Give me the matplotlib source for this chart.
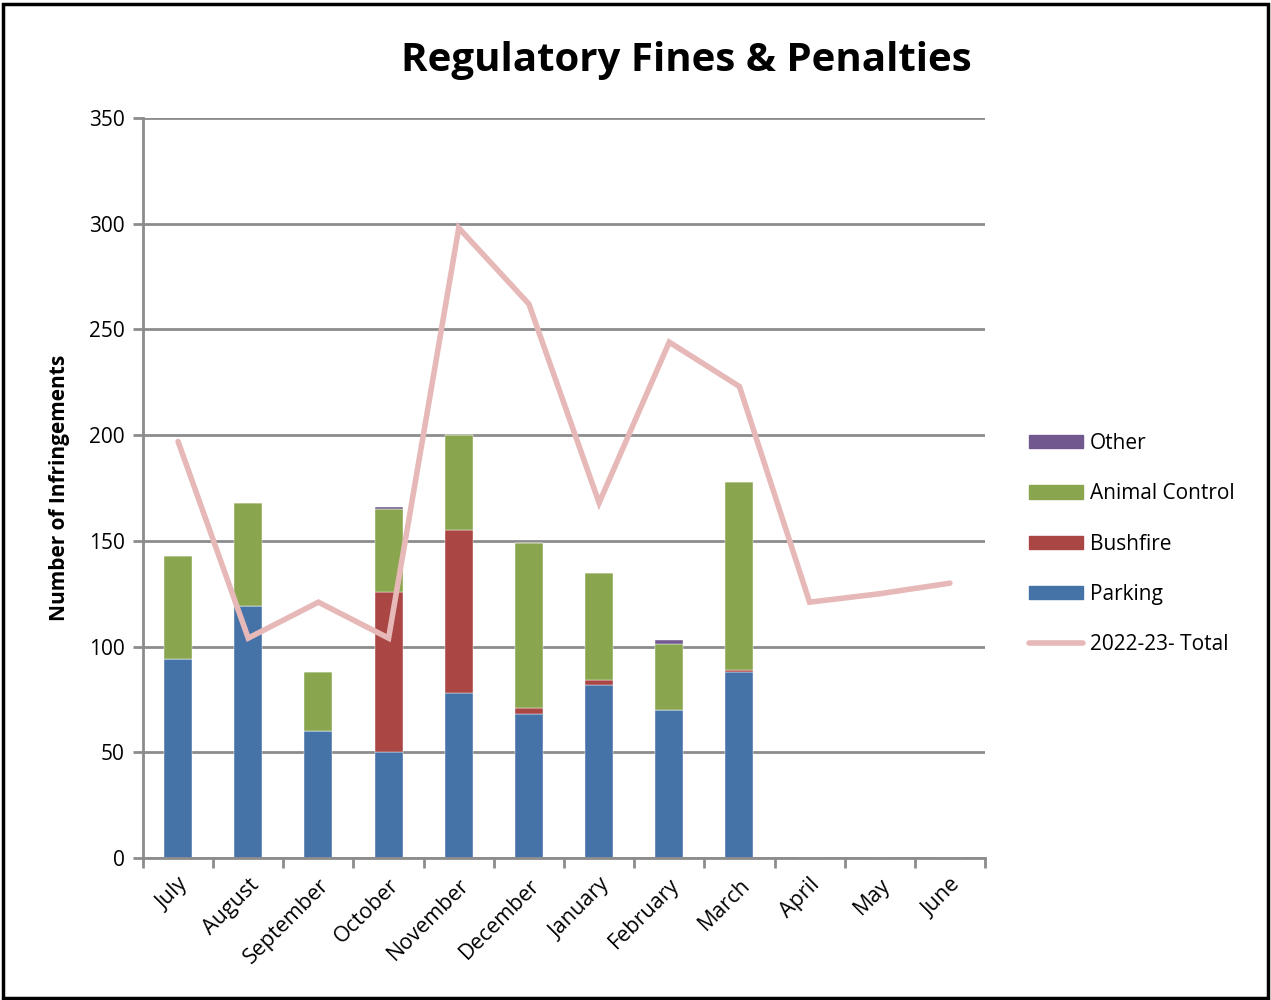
import numpy as np
import matplotlib.pyplot as plt
from matplotlib.patches import Rectangle

months = ['July', 'August', 'September', 'October', 'November', 'December',
          'January', 'February', 'March', 'April', 'May', 'June']
parking = [94, 119, 60, 50, 78, 68, 82, 70, 88, 0, 0, 0]
bushfire = [0, 0, 0, 76, 77, 3, 2, 0, 1, 0, 0, 0]
animal = [49, 49, 28, 39, 45, 78, 51, 31, 89, 0, 0, 0]
other = [0, 0, 0, 1, 0, 0, 0, 2, 0, 0, 0, 0]
total = [197, 104, 121, 104, 298, 262, 168, 244, 223, 121, 125, 130]

c_park = '#4572A7'
c_bush = '#AA4643'
c_anim = '#89A54E'
c_oth = '#71588F'
c_line = '#E6B9B8'

plt.rcParams['font.family'] = ['Open Sans', 'DejaVu Sans']

fig = plt.figure(figsize=(12.71, 10), dpi=100)
ax = fig.add_axes([0.1125, 0.142, 0.6625, 0.74])

x = np.arange(len(months))
w = 0.4
b1 = np.array(parking)
b2 = b1 + np.array(bushfire)
b3 = b2 + np.array(animal)
ax.bar(x, parking, w, color=c_park, edgecolor='white', linewidth=0.3, zorder=2)
ax.bar(x, bushfire, w, bottom=b1, color=c_bush, edgecolor='white', linewidth=0.3, zorder=2)
ax.bar(x, animal, w, bottom=b2, color=c_anim, edgecolor='white', linewidth=0.3, zorder=2)
ax.bar(x, other, w, bottom=b3, color=c_oth, edgecolor='white', linewidth=0.3, zorder=2)
ax.plot(x, total, color=c_line, linewidth=4, solid_capstyle='round',
        solid_joinstyle='miter', zorder=3)

ax.set_xlim(-0.5, 11.5)
ax.set_ylim(0, 350)
ax.set_yticks(np.arange(0, 351, 50))
ax.yaxis.grid(True, color='#8c8c8c', linewidth=2, zorder=0)
ax.set_axisbelow(True)
for s in ['top', 'right']:
    ax.spines[s].set_visible(False)
ax.spines['left'].set_color('#8c8c8c')
ax.spines['bottom'].set_color('#8c8c8c')
ax.spines['left'].set_linewidth(2)
ax.spines['bottom'].set_linewidth(2)

# tick marks between the months, labels at the bar centres
ax.set_xticks(np.arange(-0.5, 12, 1))
ax.set_xticklabels([])
ax.set_xticks(x, minor=True)
ax.set_xticklabels(months, minor=True, rotation=45, ha='right', rotation_mode='anchor',
                   fontsize=15.5)
ax.tick_params(axis='x', which='major', length=7, width=2, color='#8c8c8c', direction='out')
ax.tick_params(axis='x', which='minor', length=0, pad=12)
ax.tick_params(axis='y', length=7, width=2, color='#8c8c8c', labelsize=15, pad=6)

ax.set_ylabel('Number of Infringements', fontsize=15, fontweight='bold', labelpad=14)
fig.text(0.54, 0.94, 'Regulatory Fines & Penalties', ha='center', va='center',
         fontsize=29, fontweight='bold')

handles = [Rectangle((0, 0), 1, 1, color=c_oth),
           Rectangle((0, 0), 1, 1, color=c_anim),
           Rectangle((0, 0), 1, 1, color=c_bush),
           Rectangle((0, 0), 1, 1, color=c_park),
           plt.Line2D([], [], color=c_line, linewidth=4, solid_capstyle='round')]
labels = ['Other', 'Animal Control', 'Bushfire', 'Parking', '2022-23- Total']
fig.legend(handles, labels, loc='center left', bbox_to_anchor=(0.795, 0.456),
           frameon=False, fontsize=15, handlelength=2.6, handleheight=0.6,
           handletextpad=0.3, labelspacing=1.4)

fig.patches.append(Rectangle((0.002, 0.002), 0.996, 0.994, transform=fig.transFigure,
                             fill=False, edgecolor='black', linewidth=2.5))

fig.savefig('out.png', dpi=100)
